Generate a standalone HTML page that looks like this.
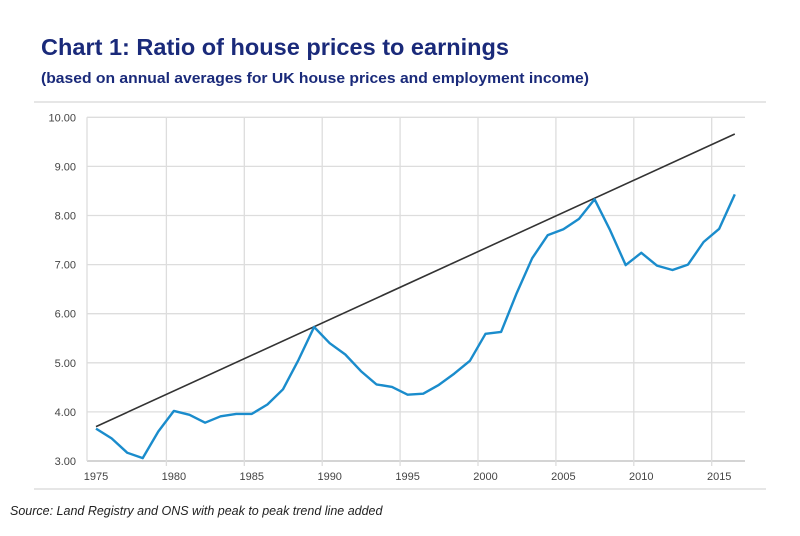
<!DOCTYPE html>
<html><head><meta charset="utf-8"><style>
html,body{margin:0;padding:0;background:#fff;}
svg{display:block;font-family:"Liberation Sans",Arial,sans-serif;}
</style></head><body>
<svg id="chart" width="800" height="536" viewBox="0 0 800 536">
<text x="41" y="55" font-size="23" font-weight="bold" fill="#1a2a7a" textLength="468" lengthAdjust="spacingAndGlyphs">Chart 1: Ratio of house prices to earnings</text>
<text x="41" y="83" font-size="14.5" font-weight="bold" fill="#1a2a7a" textLength="548" lengthAdjust="spacingAndGlyphs">(based on annual averages for UK house prices and employment income)</text>
<line x1="34" y1="102" x2="766" y2="102" stroke="#ddd" stroke-width="1.5"/>
<line x1="34" y1="489" x2="766" y2="489" stroke="#ddd" stroke-width="1.5"/>
<g id="grid"></g>
<g id="axes"></g>
<g id="series"></g>
<text x="10" y="515" font-size="12.5" font-style="italic" fill="#222">Source: Land Registry and ONS with peak to peak trend line added</text>
</svg>
<script>
const years = [1975,1976,1977,1978,1979,1980,1981,1982,1983,1984,1985,1986,1987,1988,1989,1990,1991,1992,1993,1994,1995,1996,1997,1998,1999,2000,2001,2002,2003,2004,2005,2006,2007,2008,2009,2010,2011,2012,2013,2014,2015,2016];
const ratio = [3.66,3.46,3.17,3.06,3.6,4.02,3.94,3.78,3.91,3.96,3.96,4.15,4.46,5.06,5.73,5.40,5.17,4.83,4.56,4.51,4.35,4.37,4.55,4.78,5.04,5.59,5.63,6.42,7.13,7.60,7.72,7.93,8.33,7.70,6.99,7.24,6.98,6.89,7.00,7.46,7.73,8.43];
const trendYears = [1975,2016];
const trendValues = [3.70,9.66];
const yTicks = [3,4,5,6,7,8,9,10];
const xTickLabels = [1975,1980,1985,1990,1995,2000,2005,2010,2015];

const NS="http://www.w3.org/2000/svg";
const X0=96, XS=15.58, Y3=461, YS=49.1;
const xPos = yr => X0 + (yr-1975)*XS;
const yPos = v => Y3 - (v-3)*YS;
const plotL=87, plotR=745;
function mk(tag, attrs, parent){const e=document.createElementNS(NS,tag);for(const k in attrs)e.setAttribute(k,attrs[k]);parent.appendChild(e);return e;}
const grid=document.getElementById('grid'), axes=document.getElementById('axes'), series=document.getElementById('series');

yTicks.forEach(t=>{
  const l=mk('line',{x1:plotL,x2:plotR,y1:yPos(t),y2:yPos(t),stroke:t===3?'#bbb':'#ddd','stroke-width':1.3},grid);
  
  
  const tx=mk('text',{x:76,y:yPos(t)+4,'font-size':11,fill:'#444','text-anchor':'end'},axes);
  tx.textContent=t.toFixed(2);
  
  
});
const vl=mk('line',{x1:plotL,x2:plotL,y1:yPos(10),y2:yPos(3),stroke:'#ddd','stroke-width':1.3},grid);


xTickLabels.forEach(yr=>{
  if(yr>1975){
    const gx=xPos(yr)-7.5;
    const l=mk('line',{x1:gx,x2:gx,y1:yPos(10),y2:yPos(3)+5,stroke:'#ddd','stroke-width':1.3},grid);
    
    
  }
  const tx=mk('text',{x:xPos(yr),y:480,'font-size':11,fill:'#444','text-anchor':'middle'},axes);
  tx.textContent=yr;
  
  
});
const tl=mk('line',{x1:xPos(trendYears[0]),y1:yPos(trendValues[0]),x2:xPos(trendYears[1]),y2:yPos(trendValues[1]),stroke:'#333','stroke-width':1.6},series);


const pts=years.map((y,i)=>xPos(y).toFixed(1)+','+yPos(ratio[i]).toFixed(1)).join(' ');
const pl=mk('polyline',{points:pts,fill:'none',stroke:'#1a8ccc','stroke-width':2.4,'stroke-linejoin':'round'},series);


</script>
</body></html>
